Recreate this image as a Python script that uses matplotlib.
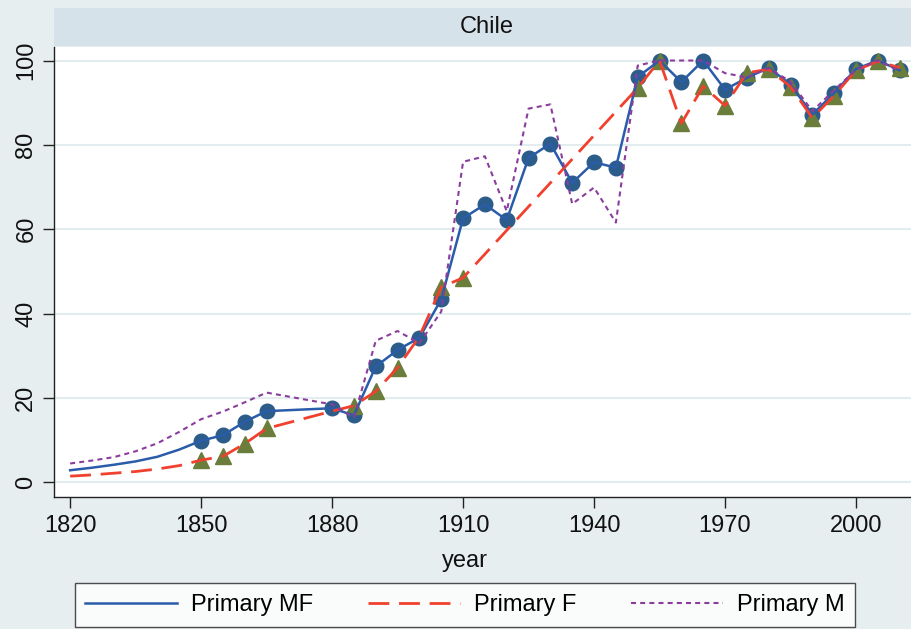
import matplotlib
matplotlib.use("Agg")
import matplotlib.pyplot as plt
import numpy as np

plt.rcParams["font.family"] = ["Liberation Sans", "DejaVu Sans"]

# line data (interpolated series as drawn)
mf_years = [1820, 1825, 1830, 1835, 1840, 1845, 1850, 1855, 1860, 1865, 1880, 1885,
            1890, 1895, 1900, 1905, 1910, 1915, 1920, 1925, 1930, 1935, 1940, 1945,
            1950, 1955, 1960, 1965, 1970, 1975, 1980, 1985, 1990, 1995, 2000, 2005, 2010]
mf_vals = [2.9, 3.5, 4.2, 5.0, 6.1, 7.8, 9.9, 11.2, 14.4, 16.9, 17.6, 15.9,
           27.5, 31.4, 34.3, 43.4, 62.6, 65.9, 62.2, 76.9, 80.3, 71.0, 75.9, 74.6,
           96.1, 100.0, 94.9, 100.0, 93.1, 95.9, 98.3, 94.3, 87.2, 92.3, 98.0, 100.0, 97.7]

f_years = [1820, 1825, 1830, 1835, 1840, 1845, 1850, 1855, 1860, 1865, 1880, 1885,
           1890, 1895, 1900, 1905, 1910, 1950, 1955, 1960, 1965, 1970, 1975, 1980,
           1985, 1990, 1995, 2000, 2005, 2010]
f_vals = [1.5, 1.8, 2.2, 2.6, 3.2, 4.0, 5.3, 6.2, 9.2, 12.8, 16.9, 18.2,
          21.6, 27.2, 34.6, 46.3, 48.5, 93.5, 100.0, 85.1, 93.9, 89.3, 97.1, 97.9,
          93.8, 86.4, 91.7, 97.7, 99.8, 98.3]

m_years = [1820, 1825, 1830, 1835, 1840, 1845, 1850, 1855, 1860, 1865, 1880, 1885,
           1890, 1895, 1900, 1905, 1910, 1915, 1920, 1925, 1930, 1935, 1940, 1945,
           1950, 1955, 1960, 1965, 1970, 1975, 1980, 1985, 1990, 1995, 2000, 2005, 2010]
m_vals = [4.5, 5.2, 6.0, 7.4, 9.3, 12.0, 15.0, 16.8, 19.0, 21.3, 18.5, 15.4,
          33.6, 35.9, 33.0, 40.5, 76.0, 77.3, 64.3, 88.6, 89.6, 66.0, 69.9, 61.6,
          98.8, 100.0, 100.0, 100.0, 97.0, 96.0, 98.2, 95.0, 88.0, 93.0, 97.8, 100.0, 97.5]

# observed points (markers)
mf_obs_years = [1850, 1855, 1860, 1865, 1880, 1885, 1890, 1895, 1900, 1905, 1910,
                1915, 1920, 1925, 1930, 1935, 1940, 1945, 1950, 1955, 1960, 1965,
                1970, 1975, 1980, 1985, 1990, 1995, 2000, 2005, 2010]
mf_obs = [9.9, 11.2, 14.4, 16.9, 17.6, 15.9, 27.5, 31.4, 34.3, 43.4, 62.6,
          65.9, 62.2, 76.9, 80.3, 71.0, 75.9, 74.6, 96.1, 100.0, 94.9, 100.0,
          93.1, 95.9, 98.3, 94.3, 87.2, 92.3, 98.0, 100.0, 97.7]
f_obs_years = [1850, 1855, 1860, 1865, 1885, 1890, 1895, 1905, 1910, 1950, 1955,
               1960, 1965, 1970, 1975, 1980, 1985, 1990, 1995, 2000, 2005, 2010]
f_obs = [5.3, 6.2, 9.2, 12.8, 18.2, 21.6, 27.2, 46.3, 48.5, 93.5, 100.0,
         85.1, 93.9, 89.3, 97.1, 97.9, 93.8, 86.4, 91.7, 97.7, 99.8, 98.3]

x_ticks = [1820, 1850, 1880, 1910, 1940, 1970, 2000]
y_ticks = [0, 20, 40, 60, 80, 100]

W, H = 911, 629
bg = "#E7EEF0"
fig = plt.figure(figsize=(W / 100, H / 100), dpi=100, facecolor=bg)

ax = fig.add_axes([54 / W, (H - 497) / H, 857 / W, 450 / H])
ax.set_facecolor("white")

ax.plot(mf_obs_years, mf_obs, "o", ms=10.5, color="#2B5C8A", ls="none", zorder=2)
ax.plot(f_obs_years, f_obs, "^", ms=11, color="#6A7D3A", ls="none", zorder=2.1)
ax.plot(mf_years, mf_vals, color="#2A5CAA", lw=1.8, label="Primary MF", zorder=3)
ax.plot(f_years, f_vals, color="#F0412E", lw=2.0, dashes=(7.5, 3.5), label="Primary F", zorder=3.1)
ax.plot(m_years, m_vals, color="#8B3D9E", lw=1.5, dashes=(2.4, 2.0), label="Primary M", zorder=3.2)

ax.set_xlim(1816.3, 2012.6)
ax.set_ylim(-3.44, 103.2)
ax.set_xticks(x_ticks)
ax.set_yticks(y_ticks)
ax.grid(True, axis="y", color="#E3ECEF", lw=1.5, zorder=0)
for s in ["top", "right"]:
    ax.spines[s].set_visible(False)
for s in ["left", "bottom"]:
    ax.spines[s].set_color("#222222")
    ax.spines[s].set_linewidth(1.0)
ax.tick_params(axis="both", direction="out", length=8, width=1, color="#222222",
               labelsize=17, labelcolor="#111111")
ax.tick_params(axis="x", pad=5)
ax.tick_params(axis="y", pad=4)
for lab in ax.get_yticklabels():
    lab.set_rotation(90)
    lab.set_va("center")

# title strip
strip = fig.add_axes([54 / W, (H - 46) / H, 857 / W, 38 / H])
strip.set_facecolor("#D6E2E9")
strip.set_xticks([])
strip.set_yticks([])
for s in strip.spines.values():
    s.set_visible(False)
fig.text(487 / W, 1 - 27 / H, "Chile", ha="center", va="center", fontsize=17, color="#111111")

fig.text(465 / W, 1 - 561 / H, "year", ha="center", va="center", fontsize=17, color="#111111")

leg = fig.legend(loc="center", bbox_to_anchor=(465 / W, 1 - 605 / H), ncol=3,
                 fontsize=17, handlelength=3.9, columnspacing=2.3, handletextpad=0.6,
                 frameon=True, fancybox=False, borderpad=0.45, borderaxespad=0)
leg.get_frame().set_edgecolor("#222222")
leg.get_frame().set_linewidth(1.0)

fig.savefig("out.png", dpi=100, facecolor=bg)
